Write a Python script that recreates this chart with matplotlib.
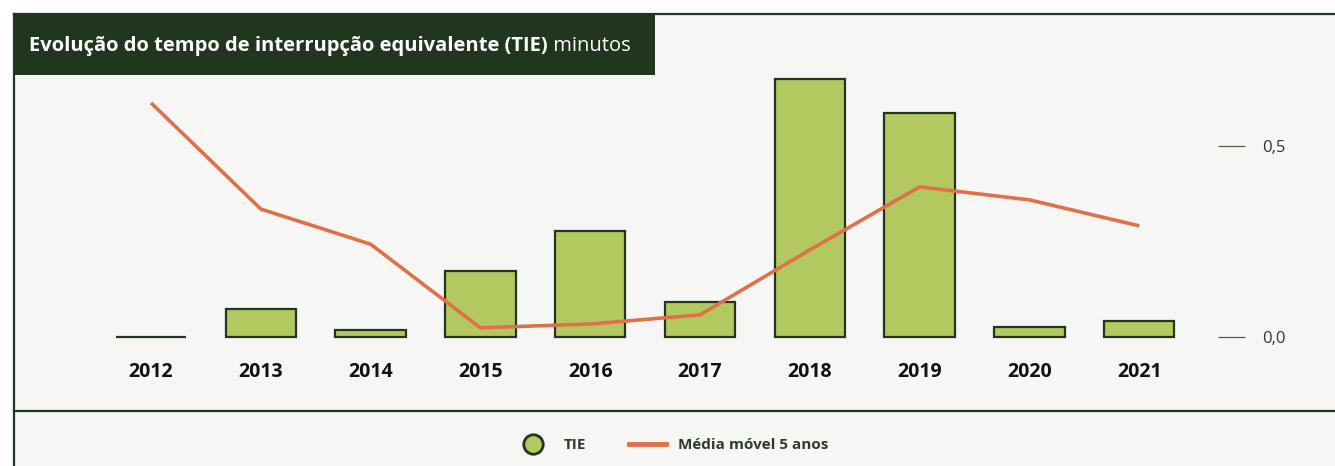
import numpy as np
import matplotlib.pyplot as plt
from matplotlib.lines import Line2D
from matplotlib.patches import Rectangle
from matplotlib.text import Annotation

years = ['2012', '2013', '2014', '2015', '2016', '2017', '2018', '2019', '2020', '2021']
tie = [0.0, 0.073, 0.018, 0.173, 0.277, 0.092, 0.675, 0.586, 0.026, 0.042]
media_movel = [0.613, 0.335, 0.243, 0.024, 0.034, 0.058, 0.228, 0.393, 0.359, 0.291]
yticks = [0.0, 0.5]
ytick_labels = ['0,0', '0,5']

bg = '#f6f6f4'
dark = '#21361f'
bar_green = '#b3c85e'
orange = '#e0704a'

plt.rcParams['font.family'] = ['Open Sans', 'DejaVu Sans']

W, H = 1335, 466
fig = plt.figure(figsize=(W / 100, H / 100), dpi=100)
fig.patch.set_facecolor('white')

# axes: x index 0 at pixel 151, spacing 109.8; y=0 at pixel 337, 382 px per unit
ax_l, ax_r, ax_t, ax_b = 14, 1218, 75, 345
ax = fig.add_axes([ax_l / W, 1 - ax_b / H, (ax_r - ax_l) / W, (ax_b - ax_t) / H])
ax.set_facecolor('none')
ax.set_zorder(3)

# panel background and frame (behind the axes)
fig.patches.append(Rectangle((14 / W, 0), 1 - 14 / W, 1 - 14 / H, transform=fig.transFigure,
                             facecolor=bg, edgecolor='none', zorder=-5))
for xs, ys in [([14 / W, 1], [1 - 14 / H, 1 - 14 / H]),
               ([14 / W, 14 / W], [0, 1 - 14 / H]),
               ([14 / W, 1], [1 - 411 / H, 1 - 411 / H])]:
    fig.lines.append(Line2D(xs, ys, transform=fig.transFigure, color=dark, lw=1.6, zorder=5))

# title box
fig.patches.append(Rectangle((14 / W, 1 - 75 / H), (655 - 14) / W, (75 - 14) / H, transform=fig.transFigure,
                             facecolor=dark, edgecolor='none', zorder=4))
t = fig.text(29 / W, 1 - 46 / H, 'Evolução do tempo de interrupção equivalente (TIE)', color='white',
             fontsize=14.5, fontweight='bold', va='center', ha='left', zorder=6)
sub = Annotation(' minutos', xy=(1, 0), xycoords=t, va='bottom', ha='left', color='white',
                 fontsize=14.5, zorder=6)
fig.add_artist(sub)

x = np.arange(len(years))
ax.bar(x, tie, width=0.64, color=bar_green, edgecolor=dark, linewidth=1.6, zorder=2)
ax.plot(x, media_movel, color=orange, lw=2.6, zorder=3, solid_capstyle='butt')

ax.set_xlim((ax_l - 151) / 109.8, (ax_r - 151) / 109.8)
ax.set_ylim(-(ax_b - 337) / 382, (337 - ax_t) / 382)
for s in ax.spines.values():
    s.set_visible(False)
ax.set_xticks(x)
ax.set_xticklabels(years, fontsize=14, fontweight='bold', color='#111111')
ax.tick_params(axis='x', length=0, pad=12)
ax.yaxis.tick_right()
ax.set_yticks(yticks)
ax.set_yticklabels(ytick_labels, fontsize=12, color='#333333')
ax.tick_params(axis='y', direction='out', length=19.5, width=0.9, color='#4a5e48', pad=12)

handles = [
    Line2D([], [], marker='o', linestyle='none', markersize=14, markerfacecolor=bar_green,
           markeredgecolor=dark, markeredgewidth=2),
    Line2D([], [], color=orange, lw=3.5),
]
fig.legend(handles, ['TIE', 'Média móvel 5 anos'], loc='center', bbox_to_anchor=(0.503, 1 - 445 / H),
           ncol=2, frameon=False, handlelength=2.4, handletextpad=0.8, columnspacing=2.8,
           prop={'size': 11, 'weight': 'bold'}, labelcolor='#2d3d2b')

plt.savefig('out.png', dpi=100, facecolor=fig.get_facecolor())
